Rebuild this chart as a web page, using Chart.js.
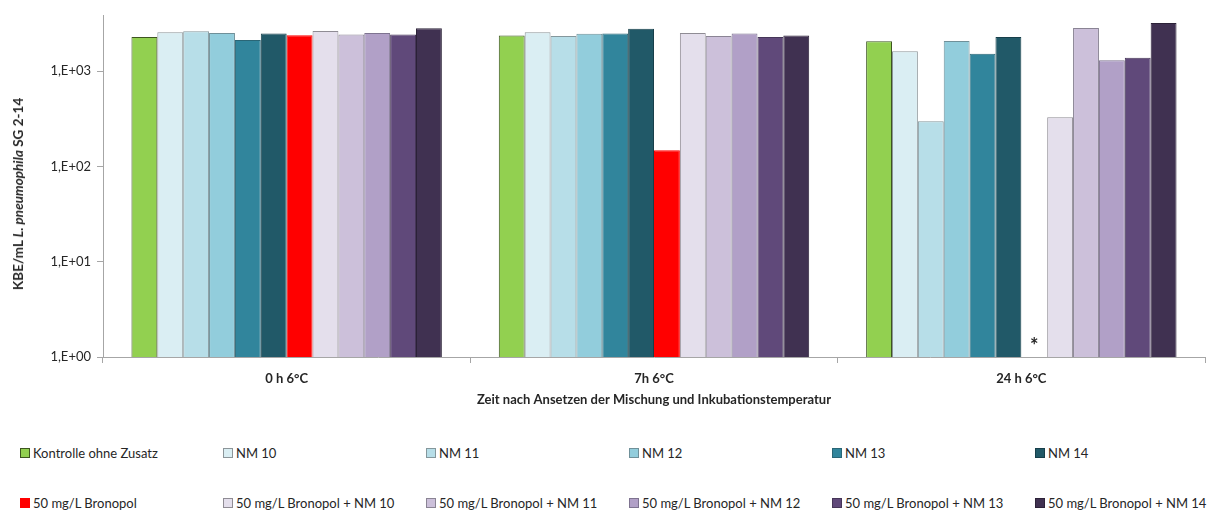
<!DOCTYPE html>
<html>
<head>
<meta charset="utf-8">
<script src="https://cdn.jsdelivr.net/npm/chart.js@4.4.1/dist/chart.umd.min.js"></script>
<style>
  html, body { margin: 0; padding: 0; background: #fff; }
  #wrap { position: relative; width: 1227px; height: 514px; overflow: hidden; background: #fff;
          font-family: Lato, "Liberation Sans", sans-serif; color: #262626; }
  #chartBox { position: absolute; left: 0; top: 0; }
  #ytitle { position: absolute; left: 18px; top: 194px; transform: translate(-50%, -50%) rotate(-90deg);
            white-space: nowrap; font-weight: bold; font-size: 13.5px; color: #262626; }
  .lg { position: absolute; display: flex; align-items: center; font-size: 13px; color: #262626; white-space: nowrap;
        transform: translateY(-50%); }
  .lg .box { width: 8px; height: 8px; border: 1px solid; margin-right: 3px; box-sizing: content-box; }
</style>
</head>
<body>
<div id="wrap">
  <canvas id="chartBox" width="1227" height="412"></canvas>
  <div id="ytitle">KBE/mL <i>L. pneumophila</i> SG 2-14</div>
  <div id="legend"></div>
</div>
<script>
// Sampling times (x categories)
const categories = ['0 h 6°C', '7h 6°C', '24 h 6°C'];

// Decade ticks of the log axis
const yTickValues = [1, 10, 100, 1000];

// Series names (legend order)
const seriesNames = [
  'Kontrolle ohne Zusatz', 'NM 10', 'NM 11', 'NM 12', 'NM 13', 'NM 14',
  '50 mg/L Bronopol', '50 mg/L Bronopol + NM 10', '50 mg/L Bronopol + NM 11',
  '50 mg/L Bronopol + NM 12', '50 mg/L Bronopol + NM 13', '50 mg/L Bronopol + NM 14'
];

// KBE/mL per series at 0 h, 7 h, 24 h
const kontrolle  = [2290, 2370, 2070];
const nm10       = [2570, 2570, 1620];
const nm11       = [2630, 2350, 299];
const nm12       = [2520, 2480, 2080];
const nm13       = [2130, 2500, 1530];
const nm14       = [2500, 2800, 2290];
const bronopol   = [2390, 148, null];   // 24 h: no count (*)
const bronNm10   = [2650, 2520, 330];
const bronNm11   = [2440, 2350, 2850];
const bronNm12   = [2520, 2500, 1305];
const bronNm13   = [2440, 2290, 1390];
const bronNm14   = [2830, 2370, 3210];

const seriesValues = [kontrolle, nm10, nm11, nm12, nm13, nm14,
                      bronopol, bronNm10, bronNm11, bronNm12, bronNm13, bronNm14];

const fillColors = ['#92D050', '#DAEEF3', '#B7DEE8', '#92CDDC', '#31859C', '#215968',
                    '#FF0000', '#E4DFEC', '#CCC0DA', '#B1A0C7', '#60497A', '#403151'];
const edgeColors = ['#3D5520', '#8C9599', '#84979C', '#6F9099', '#2A6676', '#173F4A',
                    '#FF0000', '#8F8C94', '#8A8494', '#7E7390', '#463658', '#2C2238'];

const FONT = 'Lato, "Liberation Sans", sans-serif';

function formatTick(v) {
  const e = Math.round(Math.log10(v));
  return '1,E+' + String(e).padStart(2, '0');
}

// Marks the empty 24 h Bronopol slot with an asterisk
const asteriskPlugin = {
  id: 'asterisk',
  afterDatasetsDraw(chart) {
    const idx = seriesNames.indexOf('50 mg/L Bronopol');
    const meta = chart.getDatasetMeta(idx);
    const ctx = chart.ctx;
    seriesValues[idx].forEach((v, i) => {
      if (v === null) {
        const x = meta.data[i].x;
        ctx.save();
        ctx.font = 'bold 20px ' + FONT;
        ctx.fillStyle = '#262626';
        ctx.textAlign = 'center';
        ctx.textBaseline = 'middle';
        ctx.fillText('*', x, chart.chartArea.bottom - 10);
        ctx.restore();
      }
    });
  }
};

const chart = new Chart(document.getElementById('chartBox'), {
  type: 'bar',
  data: {
    labels: categories,
    datasets: seriesNames.map((name, i) => ({
      label: name,
      data: seriesValues[i],
      backgroundColor: fillColors[i],
      borderColor: edgeColors[i],
      borderWidth: 1,
      categoryPercentage: 0.845,
      barPercentage: 1.0
    }))
  },
  options: {
    responsive: false,
    animation: false,
    devicePixelRatio: 1,
    layout: { padding: { left: 0, right: 22, top: 15, bottom: 0 } },
    plugins: { legend: { display: false }, tooltip: { enabled: false } },
    scales: {
      x: {
        grid: { offset: true, drawOnChartArea: false, drawTicks: true, tickLength: 6, color: '#A6A6A6' },
        border: { color: '#A6A6A6', width: 1 },
        ticks: { font: { family: FONT, size: 13, weight: 'bold' }, color: '#262626', padding: 8 },
        title: {
          display: true,
          text: 'Zeit nach Ansetzen der Mischung und Inkubationstemperatur',
          font: { family: FONT, size: 13, weight: 'bold' },
          color: '#262626',
          padding: { top: 2, bottom: 4 }
        },
        afterFit(scale) { scale.height = 55; }
      },
      y: {
        type: 'logarithmic',
        min: 1,
        max: 3900,
        afterBuildTicks(scale) { scale.ticks = yTickValues.map(v => ({ value: v })); },
        ticks: { callback: (v) => formatTick(v), font: { family: FONT, size: 13 }, color: '#262626', padding: 6 },
        grid: { drawOnChartArea: false, drawTicks: true, tickLength: 6, color: '#A6A6A6' },
        border: { color: '#A6A6A6', width: 1 },
        afterFit(scale) { scale.width = 103; }
      }
    }
  },
  plugins: [asteriskPlugin]
});

// Legend: two rows of six fixed-width columns
const legend = document.getElementById('legend');
chart.data.datasets.forEach((ds, i) => {
  const col = i % 6, row = Math.floor(i / 6);
  const item = document.createElement('div');
  item.className = 'lg';
  item.style.left = (20 + col * 203) + 'px';
  item.style.top = (453 + row * 50) + 'px';
  const box = document.createElement('span');
  box.className = 'box';
  box.style.background = ds.backgroundColor;
  box.style.borderColor = ds.borderColor;
  const txt = document.createElement('span');
  txt.textContent = ds.label;
  item.appendChild(box);
  item.appendChild(txt);
  legend.appendChild(item);
});
</script>
</body>
</html>
